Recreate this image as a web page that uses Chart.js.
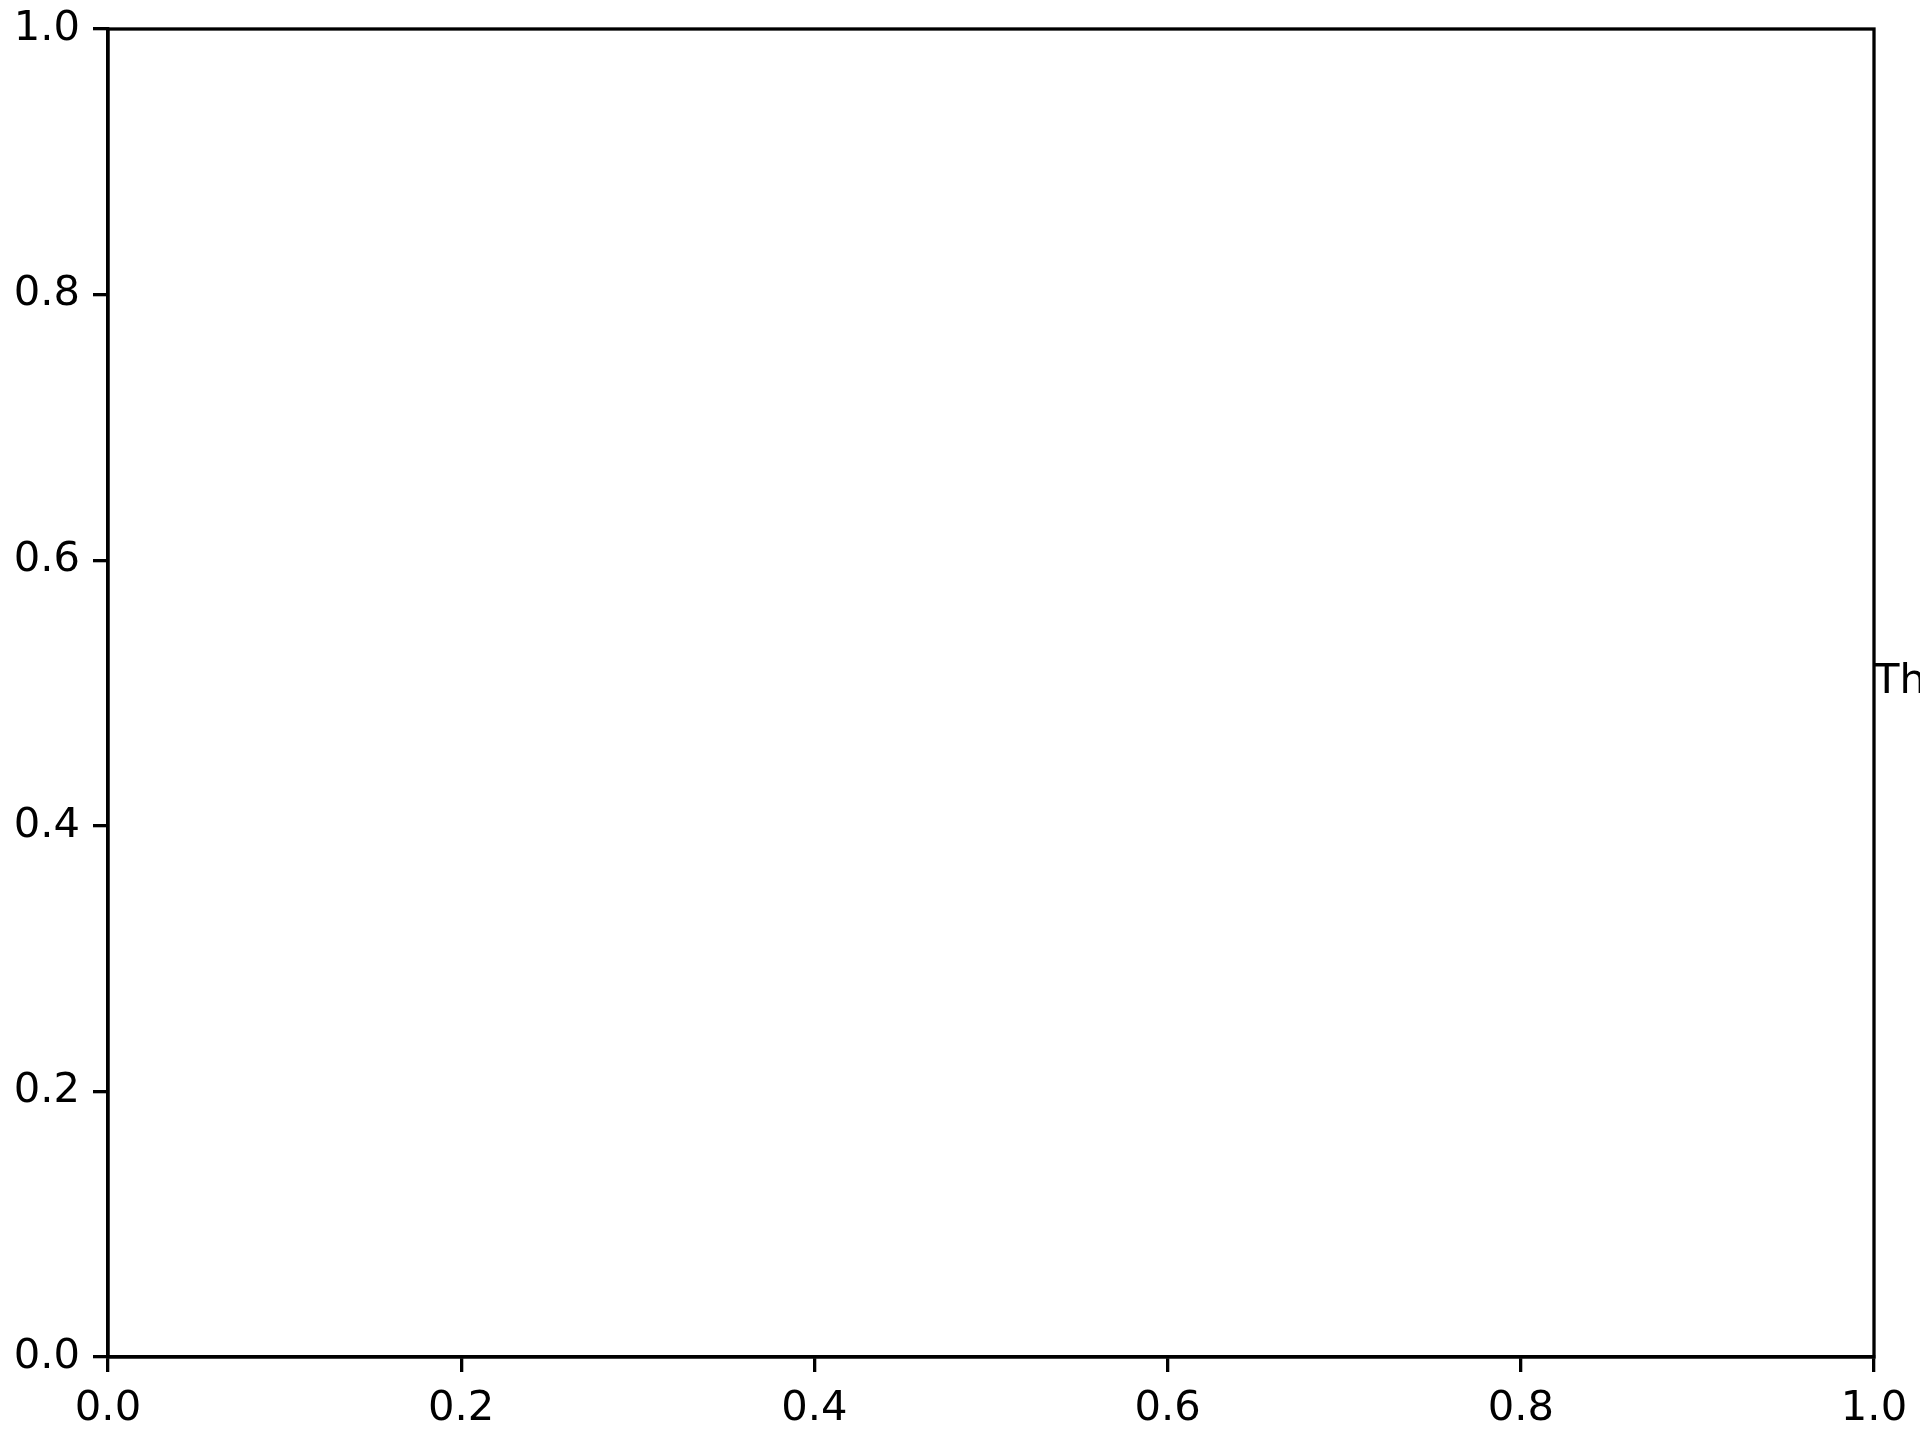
<!DOCTYPE html>
<html>
<head>
<meta charset="utf-8">
<script src="https://cdn.jsdelivr.net/npm/chart.js@4"></script>
<style>
  html, body { margin: 0; padding: 0; background: #fff; }
  #wrap { width: 1920px; height: 1440px; }
</style>
</head>
<body>
<div id="wrap"><canvas id="myChart" width="1920" height="1440"></canvas></div>
<script>
// axis ticks
const xTickValues = [0.0, 0.2, 0.4, 0.6, 0.8, 1.0];
const yTickValues = [0.0, 0.2, 0.4, 0.6, 0.8, 1.0];
const xRange = [0, 1];
const yRange = [0, 1];
// the one text in the plot, at data position (1.0, 0.5), cut by the figure edge
const noteText = 'Th';
const notePos = [1.0, 0.5];

const ink = '#000000';
const lw = 3.3;
const fontSize = 41.7;

// draws the two missing spines (top/right) and the text
const framePlugin = {
    id: 'frame',
    afterDraw(chart) {
        const c = chart.ctx;
        const a = chart.chartArea;
        c.save();
        c.strokeStyle = ink;
        c.lineWidth = lw;
        c.strokeRect(a.left, a.top, a.right - a.left, a.bottom - a.top);
        const px = chart.scales.x.getPixelForValue(notePos[0]);
        const py = chart.scales.y.getPixelForValue(notePos[1]);
        c.fillStyle = ink;
        c.font = fontSize + 'px "DejaVu Sans"';
        c.textAlign = 'left';
        c.textBaseline = 'alphabetic';
        c.fillText(noteText, px, py);
        c.restore();
    }
};

const tickStyle = {
    display: true,
    drawOnChartArea: false,
    drawTicks: true,
    tickLength: 15,
    tickWidth: lw,
    tickColor: ink,
    lineWidth: lw,
    color: ink
};

const ctx = document.getElementById('myChart');
const myChart = new Chart(ctx, {
    type: 'scatter',
    data: {
        datasets: [{
            label: '',
            data: []
        }]
    },
    options: {
        responsive: false,
        animation: false,
        devicePixelRatio: 1,
        layout: {
            padding: { top: 29, right: 46, left: 0, bottom: 0 }
        },
        plugins: {
            legend: { display: false },
            tooltip: { enabled: false }
        },
        scales: {
            x: {
                type: 'linear',
                min: xRange[0],
                max: xRange[1],
                afterBuildTicks: s => { s.ticks = xTickValues.map(v => ({ value: v })); },
                afterFit: s => { s.height = 83; s.paddingLeft = 0; s.paddingRight = 0; },
                grid: tickStyle,
                border: { display: true, color: ink, width: lw },
                ticks: {
                    color: ink,
                    padding: 12,
                    maxRotation: 0,
                    autoSkip: false,
                    font: { family: 'DejaVu Sans', size: fontSize },
                    callback: v => Number(v).toFixed(1)
                }
            },
            y: {
                type: 'linear',
                min: yRange[0],
                max: yRange[1],
                afterBuildTicks: s => { s.ticks = yTickValues.map(v => ({ value: v })); },
                afterFit: s => { s.width = 108; s.paddingTop = 0; s.paddingBottom = 0; },
                grid: tickStyle,
                border: { display: true, color: ink, width: lw },
                ticks: {
                    color: ink,
                    padding: 13,
                    autoSkip: false,
                    font: { family: 'DejaVu Sans', size: fontSize },
                    callback: v => Number(v).toFixed(1)
                }
            }
        }
    },
    plugins: [framePlugin]
});
</script>
</body>
</html>
